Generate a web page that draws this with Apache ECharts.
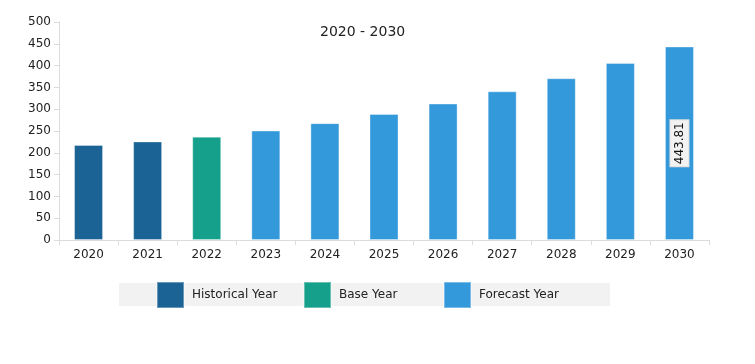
<!DOCTYPE html>
<html><head><meta charset="utf-8">
<script src="https://cdn.jsdelivr.net/npm/echarts@6/dist/echarts.min.js"></script>
<style>html,body{margin:0;padding:0;background:#fff}#c{width:755px;height:364px}</style>
</head><body><div id="c"></div>
<script>
var categories = ['2020','2021','2022','2023','2024','2025','2026','2027','2028','2029','2030'];
var historical = [218, 226, '-', '-', '-', '-', '-', '-', '-', '-', '-'];
var base = ['-', '-', 237, '-', '-', '-', '-', '-', '-', '-', '-'];
var forecast = ['-', '-', '-', 251, 268, 289, 313, 341, 371, 406, 443.81];
var yTicks = [0, 50, 100, 150, 200, 250, 300, 350, 400, 450, 500];
var labelled = '2030';

var font = 'DejaVu Sans';
var chart = echarts.init(document.getElementById('c'));
var valueLabel = {
  show: true, position: 'inside', rotate: 90, fontFamily: font, fontSize: 12, color: '#111',
  backgroundColor: '#f2f2f2', borderColor: '#ddd', borderWidth: 1, padding: [3, 2, 3, 2]
};
function bar(name, data, color) {
  return {
    name: name, type: 'bar', stack: 'all', barWidth: 29,
    data: data.map(function (v, i) {
      return (categories[i] === labelled && v !== '-') ? { value: v, label: valueLabel } : v;
    }),
    itemStyle: { color: color, borderColor: 'rgba(255,255,255,0.35)', borderWidth: 1 },
    label: { show: false }
  };
}
function leg(name, left) {
  return {
    left: left, top: 281, padding: 0, data: [name], itemWidth: 27, itemHeight: 26, itemGap: 0,
    icon: 'rect', selectedMode: false,
    textStyle: { fontFamily: font, fontSize: 12, color: '#222', padding: [0, 0, 0, 3] }
  };
}
chart.setOption({
  animation: false,
  title: { text: '2020 - 2030', left: 320, top: 25, padding: 0, textStyle: { fontFamily: font, fontSize: 14, fontWeight: 'normal', color: '#222' } },
  graphic: [{ type: 'rect', shape: { x: 119, y: 283, width: 491, height: 23 }, style: { fill: '#f2f2f2' }, z: 0 }],
  legend: [leg('Historical Year', 156), leg('Base Year', 303), leg('Forecast Year', 443)],
  grid: { left: 59, right: 46, top: 22, bottom: 124 },
  xAxis: {
    type: 'category', data: categories,
    axisLine: { lineStyle: { color: '#dcdcdc', width: 1 } },
    axisTick: { show: true, length: 5, lineStyle: { color: '#dcdcdc' } },
    axisLabel: { fontFamily: font, fontSize: 12, color: '#222', margin: 9 }
  },
  yAxis: {
    type: 'value', min: yTicks[0], max: yTicks[yTicks.length - 1], interval: 50,
    axisLine: { show: true, lineStyle: { color: '#dcdcdc' } },
    axisTick: { show: true, length: 5, lineStyle: { color: '#dcdcdc' } },
    splitLine: { show: false },
    axisLabel: { fontFamily: font, fontSize: 12, color: '#222', margin: 8 }
  },
  series: [bar('Historical Year', historical, '#1a6394'), bar('Base Year', base, '#14a08a'), bar('Forecast Year', forecast, '#3499da')]
});
</script></body></html>
